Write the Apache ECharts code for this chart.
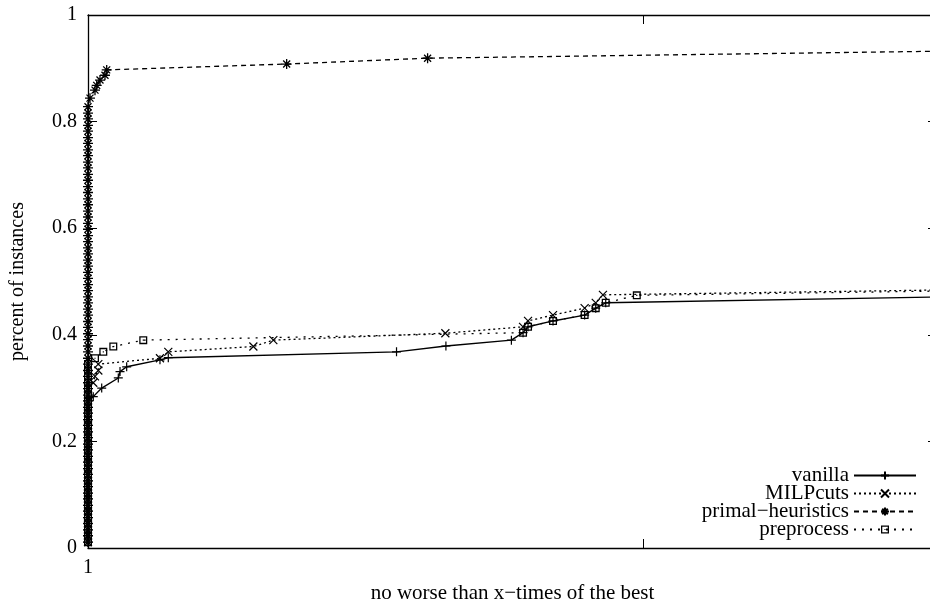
<!DOCTYPE html>
<html>
<head>
<meta charset="utf-8">
<script src="https://cdn.jsdelivr.net/npm/echarts@6/dist/echarts.min.js"></script>
<style>html,body{margin:0;padding:0;background:#fff;}#c{width:930px;height:607px;}</style>
</head>
<body>
<div id="c"></div>
<script>
// ---- data (x = ratio to best, y = fraction of instances) ----
const seriesNames = ['vanilla', 'MILPcuts', 'primal\u2212heuristics', 'preprocess'];
const xTickLabels = ['1'];
const yTickLabels = ['0', '0.2', '0.4', '0.6', '0.8', '1'];

// points lying on x = 1 (y values only)
const vanillaAtOne = [0.011,0.023,0.034,0.046,0.057,0.069,0.080,0.092,0.103,0.115,0.126,0.138,0.149,0.161,0.172,0.184,0.195,0.207,0.218,0.230,0.241,0.253,0.264,0.276];
const milpAtOne = [0.011,0.023,0.034,0.046,0.057,0.069,0.080,0.092,0.103,0.115,0.126,0.138,0.149,0.161,0.172,0.184,0.195,0.207,0.218,0.230,0.241,0.253,0.264,0.276,0.287,0.299];
const primalAtOne = [0.011,0.023,0.034,0.046,0.057,0.069,0.080,0.092,0.103,0.115,0.126,0.138,0.149,0.161,0.172,0.184,0.195,0.207,0.218,0.230,0.241,0.253,0.264,0.276,0.287,0.299,0.310,0.322,0.333,0.345,0.356,0.368,0.379,0.391,0.402,0.414,0.425,0.437,0.448,0.460,0.471,0.483,0.494,0.506,0.517,0.529,0.540,0.552,0.563,0.575,0.586,0.598,0.609,0.621,0.632,0.644,0.655,0.667,0.678,0.690,0.701,0.713,0.724,0.736,0.747,0.759,0.770,0.782,0.793,0.805,0.816,0.828];
const preAtOne = [0.011,0.023,0.034,0.046,0.057,0.069,0.080,0.092,0.103,0.115,0.126,0.138,0.149,0.161,0.172,0.184,0.195,0.207,0.218,0.230,0.241,0.253,0.264,0.276,0.287,0.299,0.310,0.322,0.333,0.345];

// remaining points
const vanillaX = [1.0095,1.0247,1.0546,1.0577,1.0697,1.1297,1.1447,1.556,1.645,1.763,1.784,1.793,1.838,1.895,1.915,1.933,2.53];
const vanillaY = [0.284,0.300,0.319,0.331,0.340,0.353,0.357,0.368,0.379,0.390,0.404,0.415,0.426,0.437,0.450,0.460,0.471];
const milpX = [1.0095,1.0126,1.0186,1.0186,1.1297,1.1447,1.298,1.334,1.644,1.784,1.793,1.838,1.895,1.915,1.928,2.53];
const milpY = [0.310,0.322,0.333,0.345,0.356,0.368,0.378,0.390,0.403,0.415,0.426,0.437,0.450,0.460,0.475,0.484];
const primalX = [1.0036,1.0126,1.0157,1.0216,1.0306,1.0337,1.358,1.612,2.53];
const primalY = [0.844,0.859,0.868,0.878,0.887,0.897,0.908,0.919,0.932];
const preX = [1.0126,1.0276,1.0456,1.0996,1.784,1.793,1.838,1.895,1.915,1.933,1.989,2.53];
const preY = [0.356,0.368,0.378,0.390,0.404,0.415,0.426,0.437,0.450,0.460,0.474,0.482];

const X_MIN = 1, X_MAX = 2.53;

function build(atOne, xs, ys) {
  const d = atOne.map(y => [1, y]);
  xs.forEach((x, i) => d.push([x, ys[i]]));
  return d;
}

const FONT = 'Liberation Serif';
const PLUS = 'path://M0,5L10,5M5,0L5,10';
const CROSS = 'path://M0,0L10,10M10,0L0,10';
const STAR = 'path://M0,5L10,5M5,0L5,10M1.5,1.5L8.5,8.5M8.5,1.5L1.5,8.5';
const SQUARE = 'path://M0,0H10V10H0Z M1.6,1.6V8.4H8.4V1.6Z M4.3,4.3H5.7V5.7H4.3Z';

function mk(name, data, symbol, size, dash, width, stroke) {
  return {
    name: name, type: 'line', data: data,
    symbol: symbol, symbolSize: size, showAllSymbol: true,
    clip: true,
    lineStyle: {color: '#000', width: width, type: dash},
    itemStyle: {color: '#000', borderColor: '#000', borderWidth: stroke},
    emphasis: {disabled: true},
    animation: false
  };
}

const chart = echarts.init(document.getElementById('c'), null, {renderer: 'canvas'});
chart.setOption({
  backgroundColor: '#fff',
  animation: false,
  grid: {left: 88, top: 15, right: -7, bottom: 59, containLabel: false, outerBoundsMode: 'none'},
  legend: {
    data: seriesNames,
    orient: 'vertical', align: 'right',
    right: 8, bottom: 62,
    itemWidth: 62, itemHeight: 10, itemGap: -3,
    textStyle: {color: '#000', fontFamily: FONT, fontSize: 21},
    selectedMode: false
  },
  xAxis: [{
    type: 'value', min: X_MIN, max: X_MAX, interval: 1,
    name: 'no worse than x\u2212times of the best', nameLocation: 'middle', nameGap: 35,
    nameTextStyle: {color: '#000', fontFamily: FONT, fontSize: 21},
    axisLine: {show: true, onZero: false, lineStyle: {color: '#000', width: 1.3}},
    axisTick: {show: true, inside: true, length: 9, lineStyle: {color: '#000'}},
    axisLabel: {color: '#000', fontFamily: FONT, fontSize: 20, margin: 10,
      formatter: v => (Math.abs(v - 1) < 1e-9 ? xTickLabels[0] : '')},
    splitLine: {show: false}
  }, {
    type: 'value', min: X_MIN, max: X_MAX, interval: 1, position: 'top',
    axisLine: {show: true, onZero: false, lineStyle: {color: '#000', width: 1.3}},
    axisTick: {show: true, inside: true, length: 9, lineStyle: {color: '#000'}},
    axisLabel: {show: false}, splitLine: {show: false}
  }],
  yAxis: [{
    type: 'value', min: 0, max: 1, interval: 0.2,
    name: 'percent of instances', nameLocation: 'middle', nameGap: 60, nameRotate: 90,
    nameTextStyle: {color: '#000', fontFamily: FONT, fontSize: 20},
    axisLine: {show: true, onZero: false, lineStyle: {color: '#000', width: 1.3}},
    axisTick: {show: true, inside: true, length: 9, lineStyle: {color: '#000'}},
    axisLabel: {color: '#000', fontFamily: FONT, fontSize: 20, margin: 11,
      formatter: (v, i) => yTickLabels[Math.round(v / 0.2)]},
    splitLine: {show: false}
  }, {
    type: 'value', min: 0, max: 1, interval: 0.2, position: 'right',
    axisLine: {show: true, onZero: false, lineStyle: {color: '#000', width: 1.3}},
    axisTick: {show: true, inside: true, length: 9, lineStyle: {color: '#000'}},
    axisLabel: {show: false}, splitLine: {show: false}
  }],
  series: [
    mk(seriesNames[0], build(vanillaAtOne, vanillaX, vanillaY), PLUS, 9, 'solid', 1.4, 1.2),
    mk(seriesNames[1], build(milpAtOne, milpX, milpY), CROSS, 8, [2, 3], 1.3, 1.2),
    mk(seriesNames[2], build(primalAtOne, primalX, primalY), STAR, 10, [5, 4], 1.3, 1.3),
    mk(seriesNames[3], build(preAtOne, preX, preY), SQUARE, 8, [2, 6], 1.3, 0)
  ]
});
</script>
</body>
</html>
